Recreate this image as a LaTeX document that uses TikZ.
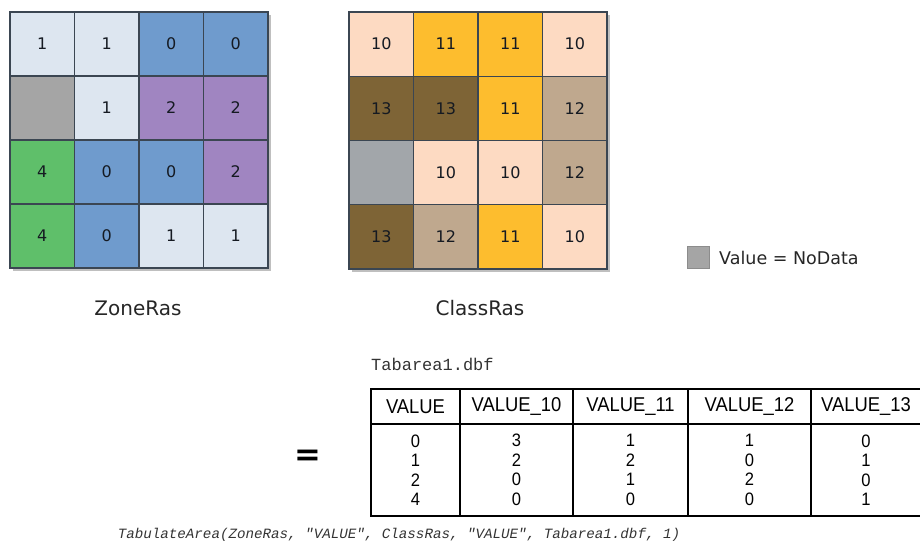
\documentclass[tikz,border=0pt]{standalone}
\usepackage{fontspec}
\setmainfont{DejaVu Sans}
\newfontfamily\tabfont[FakeStretch=0.92]{Liberation Sans}
\newfontfamily\codefont{Liberation Mono}
\usetikzlibrary{shadows}
\definecolor{zA}{HTML}{DDE6F0}
\definecolor{zB}{HTML}{6F9BCD}
\definecolor{zC}{HTML}{A085C1}
\definecolor{zD}{HTML}{5FBF6A}
\definecolor{zN}{HTML}{A5A5A5}
\definecolor{cA}{HTML}{FDDAC2}
\definecolor{cB}{HTML}{FDBD2E}
\definecolor{cC}{HTML}{BFA88E}
\definecolor{cD}{HTML}{7E6436}
\definecolor{cN}{HTML}{A2A6AA}
\definecolor{gridline}{HTML}{3B4652}
\definecolor{numtext}{HTML}{151A22}
\tikzset{
  cell/.style={draw=gridline, line width=1.2pt, minimum width=64.5pt, minimum height=64pt,
    inner sep=0pt, text=numtext, font=\fontsize{16}{18}\selectfont},
  rasterlabel/.style={font=\fontsize{20}{24}\selectfont, text=black!85},
  hcell/.style={draw=black, line width=1.3pt, minimum height=35pt, inner sep=0pt,
    font=\tabfont\fontsize{20}{22}\selectfont},
  bcell/.style={draw=black, line width=1.3pt, minimum height=92pt, inner sep=0pt, align=center,
    font=\tabfont\fontsize{18}{19.5}\selectfont},
  gridshadow/.style={drop shadow={shadow xshift=3pt, shadow yshift=-3pt, opacity=0.25, fill=black}, fill=white}
}
\begin{document}
\begin{tikzpicture}[x=1pt,y=-1pt]
\useasboundingbox (0,0) rectangle (920,551);
\clip (0,0) rectangle (920,551);
% shadows
\path[gridshadow] (10,12) rectangle (268,268);
\path[gridshadow] (349,12) rectangle (607,269);
% ZoneRas
\foreach \row [count=\r] in {{1/zA,1/zA,0/zB,0/zB},{/zN,1/zA,2/zC,2/zC},{4/zD,0/zB,0/zB,2/zC},{4/zD,0/zB,1/zA,1/zA}}{
  \foreach \v/\c [count=\k] in \row {
    \node[cell, fill=\c] (z-\r-\k) at ({10+64.5*(\k-0.5)},{12+64*(\r-0.5)}) {\v};
  }
}
% ClassRas
\foreach \row [count=\r] in {{10/cA,11/cB,11/cB,10/cA},{13/cD,13/cD,11/cB,12/cC},{/cN,10/cA,10/cA,12/cC},{13/cD,12/cC,11/cB,10/cA}}{
  \foreach \v/\c [count=\k] in \row {
    \node[cell, fill=\c, minimum height=64.25pt] (c-\r-\k) at ({349+64.5*(\k-0.5)},{12+64.25*(\r-0.5)}) {\v};
  }
}
\node[rasterlabel] (zlabel) at (138,308) {ZoneRas};
\node[rasterlabel] (clabel) at (480,308) {ClassRas};
% legend
\node[draw=black!45, fill=zN, minimum size=22pt, inner sep=0pt] (legbox) at (698.5,257.5) {};
\node[anchor=west, inner sep=0pt, font=\fontsize{17.5}{20}\selectfont, text=black!85] (legtext) at (719,258) {Value = NoData};
% table
\node[anchor=base west, inner sep=0pt, font=\codefont\fontsize{17}{20}\selectfont, text=black!80] (tname) at (371,370) {Tabarea1.dbf};
\node[hcell, minimum width=89pt] (h1) at (415.5,406.5) {VALUE};
\node[hcell, minimum width=113pt] (h2) at (516.5,406.5) {VALUE\_10};
\node[hcell, minimum width=115pt] (h3) at (630.5,406.5) {VALUE\_11};
\node[hcell, minimum width=123pt] (h4) at (749.5,406.5) {VALUE\_12};
\node[hcell, minimum width=110pt] (h5) at (866,406.5) {VALUE\_13};
\node[bcell, minimum width=89pt] (b1) at (415.5,470) {0\\1\\2\\4};
\node[bcell, minimum width=113pt] (b2) at (516.5,470) {3\\2\\0\\0};
\node[bcell, minimum width=115pt] (b3) at (630.5,470) {1\\2\\1\\0};
\node[bcell, minimum width=123pt] (b4) at (749.5,470) {1\\0\\2\\0};
\node[bcell, minimum width=110pt] (b5) at (866,470) {0\\1\\0\\1};
\node[inner sep=0pt, font=\bfseries\fontsize{32}{32}\selectfont] (eq) at (308,458) {=};
\node[inner sep=0pt, font=\codefont\itshape\fontsize{14.2}{16}\selectfont, text=black!80] (expr) at (399,535) {TabulateArea(ZoneRas, "VALUE", ClassRas, "VALUE", Tabarea1.dbf, 1)};
\end{tikzpicture}
\end{document}
